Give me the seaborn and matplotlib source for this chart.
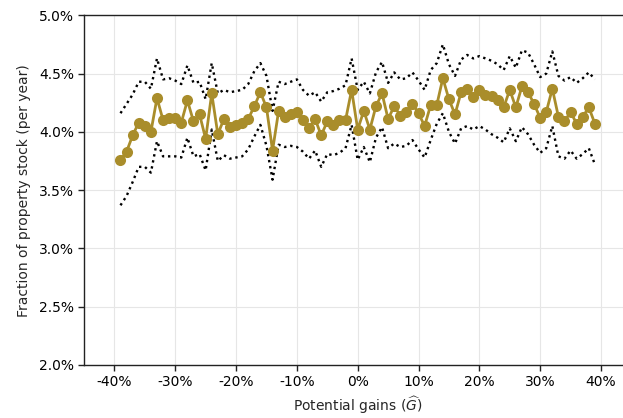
import numpy as np
import pandas as pd
import matplotlib
matplotlib.use("Agg")
import matplotlib.pyplot as plt
import seaborn as sns
from matplotlib.ticker import FuncFormatter

# Potential gains bins (percent)
gains = list(range(-39, 40))

# Fraction of stock sold per year (percent): estimate and confidence band
rate = [
    3.76, 3.83, 3.97, 4.08, 4.05, 4.00, 4.29, 4.10, 4.12, 4.12,
    4.08, 4.27, 4.09, 4.15, 3.94, 4.33, 3.98, 4.11, 4.04, 4.06,
    4.08, 4.11, 4.22, 4.34, 4.21, 3.84, 4.18, 4.13, 4.15, 4.17,
    4.10, 4.03, 4.11, 3.97, 4.09, 4.06, 4.10, 4.10, 4.36, 4.02,
    4.18, 4.02, 4.22, 4.33, 4.11, 4.22, 4.14, 4.17, 4.24, 4.16,
    4.05, 4.23, 4.23, 4.46, 4.28, 4.15, 4.34, 4.37, 4.30, 4.36,
    4.32, 4.31, 4.27, 4.21, 4.36, 4.21, 4.39, 4.34, 4.24, 4.12,
    4.17, 4.37, 4.13, 4.09, 4.17, 4.07, 4.13, 4.21, 4.07,
]
upper = [
    4.16, 4.24, 4.32, 4.43, 4.43, 4.37, 4.63, 4.45, 4.46, 4.44,
    4.41, 4.57, 4.42, 4.43, 4.28, 4.59, 4.33, 4.36, 4.34, 4.35,
    4.36, 4.41, 4.52, 4.59, 4.48, 4.18, 4.43, 4.41, 4.43, 4.45,
    4.36, 4.31, 4.34, 4.26, 4.34, 4.35, 4.37, 4.40, 4.63, 4.36,
    4.43, 4.33, 4.51, 4.60, 4.42, 4.51, 4.45, 4.46, 4.51, 4.44,
    4.36, 4.53, 4.59, 4.75, 4.58, 4.48, 4.62, 4.66, 4.63, 4.65,
    4.63, 4.61, 4.58, 4.53, 4.65, 4.55, 4.70, 4.68, 4.58, 4.47,
    4.50, 4.69, 4.48, 4.44, 4.47, 4.42, 4.46, 4.51, 4.45,
]
lower = [
    3.37, 3.45, 3.57, 3.70, 3.70, 3.65, 3.92, 3.79, 3.79, 3.79,
    3.78, 3.95, 3.79, 3.81, 3.67, 4.02, 3.75, 3.80, 3.77, 3.78,
    3.79, 3.85, 3.96, 4.06, 3.88, 3.59, 3.89, 3.87, 3.88, 3.87,
    3.83, 3.77, 3.84, 3.70, 3.81, 3.80, 3.82, 3.86, 4.06, 3.76,
    3.87, 3.74, 3.95, 4.04, 3.86, 3.90, 3.87, 3.88, 3.93, 3.85,
    3.78, 3.93, 4.07, 4.16, 4.00, 3.90, 4.03, 4.05, 4.02, 4.05,
    4.02, 3.98, 3.95, 3.91, 4.03, 3.92, 4.04, 3.98, 3.89, 3.82,
    3.86, 4.05, 3.79, 3.77, 3.84, 3.77, 3.81, 3.86, 3.72,
]

df = pd.DataFrame({"gain": gains, "rate": rate, "upper": upper, "lower": lower})

sns.set_style("whitegrid", {
    "axes.edgecolor": "#222222",
    "grid.color": "#e6e6e6",
    "xtick.bottom": True,
    "ytick.left": True,
})
plt.rcParams["font.family"] = ["DejaVu Sans"]

fig = plt.figure(figsize=(6.23, 4.18), dpi=100)
W, H = 623, 418
ax = fig.add_axes([84 / W, 1 - 365 / H, (631.4 - 84) / W, (365 - 15.3) / H])

gold = "#a98d2b"
for col in ("upper", "lower"):
    sns.lineplot(data=df, x="gain", y=col, ax=ax, color="black",
                 linestyle=(0, (1.0, 1.6)), linewidth=1.7,
                 dash_capstyle="butt", estimator=None)
sns.lineplot(data=df, x="gain", y="rate", ax=ax, color=gold, linewidth=2.0,
             marker="o", markersize=8, markeredgewidth=0,
             estimator=None)

ax.set_xlim(-45, 45)
ax.set_ylim(2.0, 5.0)
ax.set_xticks(range(-40, 41, 10))
ax.set_yticks(np.arange(2.0, 5.01, 0.5))
ax.xaxis.set_major_formatter(FuncFormatter(lambda v, p: f"{v:.0f}%"))
ax.yaxis.set_major_formatter(FuncFormatter(lambda v, p: f"{v:.1f}%"))
ax.tick_params(axis="both", labelsize=10, length=4, width=1, color="#222222",
               labelcolor="black", pad=3)
for s in ("left", "bottom", "top"):
    ax.spines[s].set_linewidth(1.0)
ax.spines["right"].set_visible(False)
ax.set_xlabel(r"Potential gains ($\widehat{G}$)", fontsize=10, labelpad=4)
ax.set_ylabel("Fraction of property stock (per year)", fontsize=10, labelpad=6)

fig.savefig("out.png", dpi=100)
